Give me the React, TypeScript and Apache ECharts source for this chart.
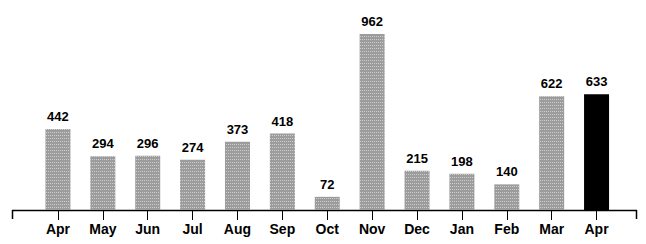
import React, { useEffect, useRef } from "react";
import * as echarts from "echarts";

const categories = ["Apr", "May", "Jun", "Jul", "Aug", "Sep", "Oct", "Nov", "Dec", "Jan", "Feb", "Mar", "Apr"];
const values = [442, 294, 296, 274, 373, 418, 72, 962, 215, 198, 140, 622, 633];
const highlightIndex = 12;

export default function App() {
  const ref = useRef<HTMLDivElement>(null);
  useEffect(() => {
    if (!ref.current) return;
    const chart = echarts.init(ref.current, null, { renderer: "svg" });
    const font = "'Liberation Sans', Arial, sans-serif";
    const stipple = {
      symbol: "rect",
      symbolSize: 1,
      color: "rgba(255,255,255,0.5)",
      dashArrayX: [1, 1],
      dashArrayY: [1, 2],
      rotation: 0,
    };
    chart.setOption({
      animation: false,
      backgroundColor: "#ffffff",
      grid: { left: 35.5, right: 27, top: 27, bottom: 34 },
      xAxis: {
        type: "category",
        data: categories,
        axisLine: { show: false },
        axisTick: { show: true, alignWithLabel: true, length: 10, lineStyle: { color: "#000", width: 1 } },
        axisLabel: { margin: 12, color: "#000", fontFamily: font, fontWeight: "bold", fontSize: 14 },
      },
      yAxis: {
        type: "value",
        min: 0,
        max: 1000,
        show: false,
        splitLine: { show: false },
      },
      series: [
        {
          type: "bar",
          barWidth: 25,
          data: values.map((v, i) =>
            i === highlightIndex
              ? { value: v, itemStyle: { color: "#000", decal: { symbol: "none" } } }
              : { value: v, itemStyle: { color: "#9c9c9c", decal: stipple } }
          ),
          label: {
            show: true,
            position: "top",
            distance: 6,
            color: "#000",
            fontFamily: font,
            fontWeight: "bold",
            fontSize: 13,
          },
        },
      ],
      graphic: [
        { type: "line", shape: { x1: 12, y1: 210.5, x2: 637, y2: 210.5 }, style: { stroke: "#000", lineWidth: 1.5 } },
        { type: "line", shape: { x1: 12.5, y1: 210, x2: 12.5, y2: 219 }, style: { stroke: "#000", lineWidth: 1.5 } },
        { type: "line", shape: { x1: 636.5, y1: 210, x2: 636.5, y2: 219 }, style: { stroke: "#000", lineWidth: 1.5 } },
      ],
    });
    return () => chart.dispose();
  }, []);
  return (
    <div
      ref={ref}
      style={{ position: "fixed", left: 0, top: 0, width: 646, height: 244, background: "#fff" }}
    />
  );
}
